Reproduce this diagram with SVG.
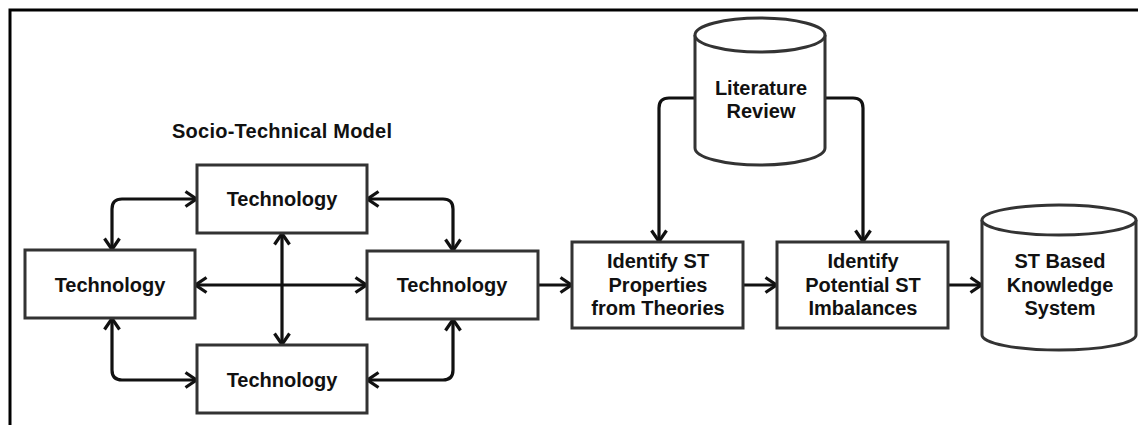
<svg xmlns="http://www.w3.org/2000/svg" width="1138" height="425" viewBox="0 0 1138 425">
  <style>
    .box { fill: #fff; stroke: #333; stroke-width: 3; }
    .cyl { fill: #fff; stroke: #333; stroke-width: 3; }
    .lbl { font-family: "Liberation Sans", Arial, sans-serif; font-weight: bold; font-size: 20px; fill: #111; text-anchor: middle; }
    .ttl { font-family: "Liberation Sans", Arial, sans-serif; font-weight: bold; font-size: 20px; fill: #111; }
    .edge { fill: none; stroke: #111; stroke-width: 3.2; }
    .dbl { marker-start: url(#head); marker-end: url(#head); }
    .one { marker-end: url(#head); }
  </style>
  <defs>
    <marker id="head" viewBox="0 0 15 18" refX="13.5" refY="9" markerWidth="15" markerHeight="18" markerUnits="userSpaceOnUse" orient="auto-start-reverse">
      <path d="M2,1.5 L13,9 L2,16.5" fill="none" stroke="#111" stroke-width="3.2" stroke-linejoin="miter"/>
    </marker>
  </defs>

  <rect width="1138" height="425" fill="#fff"/>
  <!-- outer frame (top and left edges) -->
  <path d="M10,425 V10 H1138" fill="none" stroke="#000" stroke-width="3"/>

  <text class="ttl" x="172" y="138" textLength="220" lengthAdjust="spacing">Socio-Technical Model</text>

  <g id="connectors">
    <path class="edge dbl" d="M112,250 V209 Q112,199 122,199 H197"/>
    <path class="edge dbl" d="M367,199 H443 Q453,199 453,209 V251"/>
    <path class="edge dbl" d="M112,318 V370 Q112,380 122,380 H197"/>
    <path class="edge dbl" d="M367,380 H443 Q453,380 453,370 V319"/>
    <path class="edge dbl" d="M195,285 H367"/>
    <path class="edge dbl" d="M282,233 V345"/>
    <path class="edge one" d="M538,285 H572"/>
    <path class="edge one" d="M743,285 H777"/>
    <path class="edge one" d="M948,285 H982"/>
    <path class="edge one" d="M695,98 H669 Q659,98 659,108 V242"/>
    <path class="edge one" d="M825,98 H853 Q863,98 863,108 V242"/>
  </g>

  <g id="tech-top">
    <rect class="box" x="197" y="165" width="170" height="68"/>
    <text class="lbl" x="282" y="206">Technology</text>
  </g>
  <g id="tech-left">
    <rect class="box" x="25" y="250" width="170" height="68"/>
    <text class="lbl" x="110" y="292">Technology</text>
  </g>
  <g id="tech-right">
    <rect class="box" x="367" y="251" width="171" height="68"/>
    <text class="lbl" x="452" y="292">Technology</text>
  </g>
  <g id="tech-bottom">
    <rect class="box" x="197" y="345" width="170" height="68"/>
    <text class="lbl" x="282" y="387">Technology</text>
  </g>

  <g id="literature-review">
    <path class="cyl" d="M695,35 V148 A65,17 0 0 0 825,148 V35"/>
    <ellipse class="cyl" cx="760" cy="35" rx="65" ry="17"/>
    <text class="lbl" x="761" y="95">Literature</text>
    <text class="lbl" x="761" y="118">Review</text>
  </g>

  <g id="identify-properties">
    <rect class="box" x="572" y="242" width="171" height="86"/>
    <text class="lbl" x="658" y="268">Identify ST</text>
    <text class="lbl" x="658" y="292">Properties</text>
    <text class="lbl" x="658" y="315">from Theories</text>
  </g>

  <g id="identify-imbalances">
    <rect class="box" x="777" y="242" width="171" height="86"/>
    <text class="lbl" x="863" y="268">Identify</text>
    <text class="lbl" x="863" y="292">Potential ST</text>
    <text class="lbl" x="863" y="315">Imbalances</text>
  </g>

  <g id="knowledge-system">
    <path class="cyl" d="M982,220 V335 A77,15 0 0 0 1136,335 V220"/>
    <ellipse class="cyl" cx="1059" cy="220" rx="77" ry="15"/>
    <text class="lbl" x="1060" y="268">ST Based</text>
    <text class="lbl" x="1060" y="292">Knowledge</text>
    <text class="lbl" x="1060" y="315">System</text>
  </g>
</svg>
